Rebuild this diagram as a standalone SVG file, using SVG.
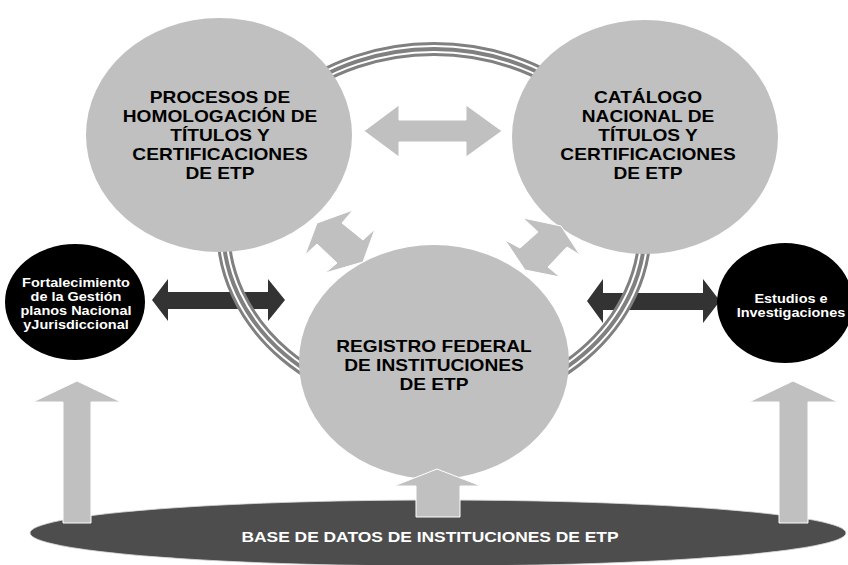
<svg xmlns="http://www.w3.org/2000/svg" width="848" height="565" viewBox="0 0 848 565">
<style>
.t{font-family:"Liberation Sans",Arial,Helvetica,sans-serif;font-weight:bold;text-anchor:middle}
.big{font-size:16.5px;fill:#000}
.sm{font-size:12.5px;fill:#fff}
.base{font-size:15px;fill:#fff}
.node{fill:#c0c0c0}
.blk{fill:#000}
.la{fill:#c0c0c0;stroke:#fff;stroke-width:1}
.da{fill:#333}
.r1{fill:none;stroke:#808080;stroke-width:14}
.r2{fill:none;stroke:#fff;stroke-width:8}
.r3{fill:none;stroke:#808080;stroke-width:4}
</style>
<rect width="848" height="565" fill="#fff"/>
<g id="connectors-back">
  <polygon class="da" points="152,300 168,279 168,292 268,292 268,279 285,300 268,321 268,309 168,309 168,321"/>
  <polygon class="da" points="587,301 603,279 603,293 703,293 703,279 720,301 703,323 703,310 603,310 603,323"/>
  <g id="ring">
    <ellipse class="r1" cx="434" cy="228" rx="211" ry="179"/>
    <ellipse class="r2" cx="434" cy="228" rx="211" ry="179"/>
    <ellipse class="r3" cx="434" cy="228" rx="211" ry="179"/>
  </g>
</g>
<g id="homologacion">
  <ellipse class="node" cx="219" cy="135" rx="133" ry="117"/>
  <g class="t big" transform="translate(220 0) scale(1.16 1)">
    <text x="0" y="103">PROCESOS DE</text>
    <text x="0" y="122">HOMOLOGACIÓN DE</text>
    <text x="0" y="141">TÍTULOS Y</text>
    <text x="0" y="160">CERTIFICACIONES</text>
    <text x="0" y="179">DE ETP</text>
  </g>
</g>
<g id="catalogo">
  <ellipse class="node" cx="645" cy="137" rx="133" ry="117"/>
  <g class="t big" transform="translate(648 0) scale(1.16 1)">
    <text x="0" y="103">CATÁLOGO</text>
    <text x="0" y="122">NACIONAL DE</text>
    <text x="0" y="141">TÍTULOS Y</text>
    <text x="0" y="160">CERTIFICACIONES</text>
    <text x="0" y="179">DE ETP</text>
  </g>
</g>
<g id="registro">
  <ellipse class="node" cx="434" cy="362" rx="135" ry="117"/>
  <g class="t big" transform="translate(434 0) scale(1.16 1)">
    <text x="0" y="352">REGISTRO FEDERAL</text>
    <text x="0" y="371">DE INSTITUCIONES</text>
    <text x="0" y="390">DE ETP</text>
  </g>
</g>
<g id="fortalecimiento">
  <ellipse class="blk" cx="75" cy="302" rx="70" ry="58"/>
  <g class="t sm" transform="translate(76 0) scale(1.16 1)">
    <text x="0" y="287">Fortalecimiento</text>
    <text x="0" y="301">de la Gestión</text>
    <text x="0" y="315">planos Nacional</text>
    <text x="0" y="329">yJurisdiccional</text>
  </g>
</g>
<g id="estudios">
  <ellipse class="blk" cx="785" cy="303" rx="68" ry="60"/>
  <g class="t sm" transform="translate(791 0) scale(1.16 1)">
    <text x="0" y="303">Estudios e</text>
    <text x="0" y="317">Investigaciones</text>
  </g>
</g>
<g id="base-datos">
  <ellipse cx="438" cy="533" rx="408" ry="33" fill="#4d4d4d" stroke="#d9d9d9" stroke-width="0.8"/>
  <g class="t base" transform="translate(430 0) scale(1.16 1)">
    <text x="0" y="542">BASE DE DATOS DE INSTITUCIONES DE ETP</text>
  </g>
</g>
<g id="connectors">
  <polygon class="la" points="364,131 399,105 399,120 466,120 466,105 502,131 466,157 466,142 399,142 399,157"/>
  <polygon class="la" points="353,210 317,223 305,255 317,244 337,263 325,273 363,262 375,229 363,240 342,223"/>
  <polygon class="la" points="523,218 561,226 580,255 567,247 548,267 560,277 525,270 505,240 520,248 538,232"/>
  <polygon class="la" points="77,381 121,402 91,402 91,523 63,523 63,402 33,402"/>
  <polygon class="la" points="793,381 838,402 808,402 808,523 779,523 779,402 749,402"/>
  <polygon class="la" points="437,469 481,486 460,486 460,517 416,517 416,486 394,486"/>
</g>
</svg>
